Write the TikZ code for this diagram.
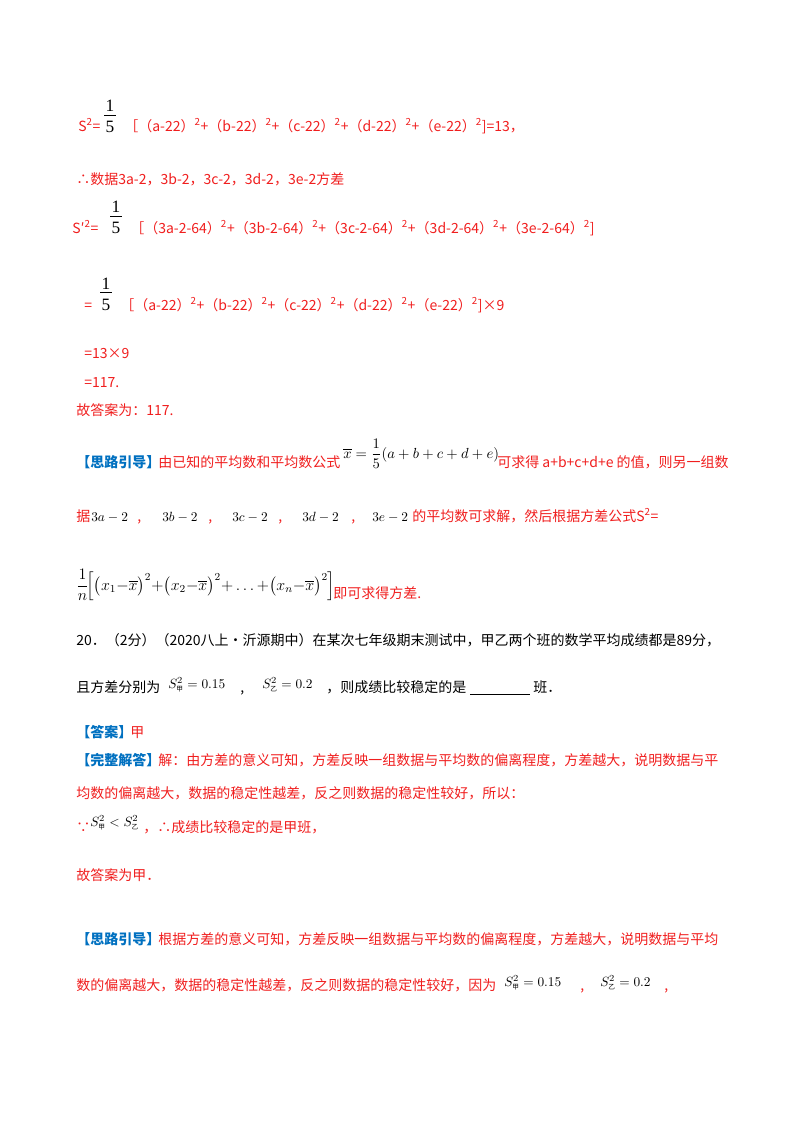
\documentclass[tikz,border=0pt]{standalone}
\usepackage{amsmath}
\usepackage{fontspec}
\newfontfamily\cjk{Noto Sans CJK SC}
\setmainfont{Liberation Serif}
\definecolor{rd}{RGB}{240,30,30}
\definecolor{bl}{RGB}{0,112,192}
\newcommand{\zh}[1]{\hbox{\cjk\fontsize{5}{5}\selectfont #1}}
\begin{document}
\begin{tikzpicture}[x=0.75pt,y=-0.75pt,
 t/.style={anchor=base west,inner sep=0,font=\cjk\fontsize{10.5}{12}\selectfont,text=rd},
 k/.style={anchor=base west,inner sep=0,font=\cjk\fontsize{10.5}{12}\selectfont,text=black},
 m/.style={anchor=base west,inner sep=0,font=\fontsize{10}{12}\selectfont,text=black},
 fr/.style={anchor=base,inner sep=0,font=\fontsize{13}{14}\selectfont,text=black},
 hd/.style={anchor=base west,inner sep=0,font=\cjk\bfseries\fontsize{10.5}{12}\selectfont,text=bl}]
\useasboundingbox (0,0) rectangle (800,1132);
% block 1
\node[t] (s1) at (78,131) {S\textsuperscript{2}=};
\node[fr] (n1) at (110,111) {1};
\node[fr] (d1) at (110,132) {5};
\draw (104,115) -- (116,115);
\node[t] (b1) at (124,131) {［（a-22）\textsuperscript{2}+（b-22）\textsuperscript{2}+（c-22）\textsuperscript{2}+（d-22）\textsuperscript{2}+（e-22）\textsuperscript{2}]=13，};
\node[t] (l2) at (76,184) {∴数据3a-2，3b-2，3c-2，3d-2，3e-2方差};
\node[t] (s2) at (72,233) {S′\textsuperscript{2}=};
\node[fr] (n2) at (116,212) {1};
\node[fr] (d2) at (116,233) {5};
\draw (110,216) -- (122,216);
\node[t] (b2) at (130,233) {［（3a-2-64）\textsuperscript{2}+（3b-2-64）\textsuperscript{2}+（3c-2-64）\textsuperscript{2}+（3d-2-64）\textsuperscript{2}+（3e-2-64）\textsuperscript{2}]};
\node[t] (e3) at (84,310) {=};
\node[fr] (n3) at (106,289) {1};
\node[fr] (d3) at (106,310) {5};
\draw (100,292) -- (112,292);
\node[t] (b3) at (120,310) {［（a-22）\textsuperscript{2}+（b-22）\textsuperscript{2}+（c-22）\textsuperscript{2}+（d-22）\textsuperscript{2}+（e-22）\textsuperscript{2}]×9};
\node[t] (l4) at (84,358) {=13×9};
\node[t] (l5) at (84,387) {=117.};
\node[t] (l6) at (76,415) {故答案为：117.};
% hint 1
\node[hd] (h1) at (76,467) {【思路引导】};
\node[t] (h1b) at (158,467) {由已知的平均数和平均数公式};
\node[m,font=\fontsize{10.5}{12}\selectfont] (f1) at (343,458) {$\overline{x}=\dfrac{1}{5}\!\left(a+b+c+d+e\right)$};
\node[t] (h1c) at (497,467) {可求得 a+b+c+d+e 的值，则另一组数};
\node[t] (r2a) at (76,521) {据};
\node[m] (r2b) at (91,521) {$3a-2$};
\node[t] (r2b1) at (137,521) {,};
\node[m] (r2c) at (162,521) {$3b-2$};
\node[t] (r2c1) at (208,521) {,};
\node[m] (r2d) at (232,521) {$3c-2$};
\node[t] (r2d1) at (278,521) {,};
\node[m] (r2e) at (302,521) {$3d-2$};
\node[t] (r2e1) at (351,521) {,};
\node[m] (r2f) at (372,521) {$3e-2$};
\node[t] (r2g) at (412,521) {的平均数可求解，然后根据方差公式S\textsuperscript{2}=};
\node[m,font=\fontsize{11.5}{13}\selectfont] (f2) at (76,590) {$\dfrac{1}{n}\!\Big[\big(x_1{-}\overline{x}\big)^2{+}\big(x_2{-}\overline{x}\big)^2{+}\ldots{+}\big(x_n{-}\overline{x}\big)^2\Big]$};
\node[t] (r3) at (333,598) {即可求得方差.};
% question 20
\node[k] (q1) at (76,645) {20．（2分）（2020八上·沂源期中）在某次七年级期末测试中，甲乙两个班的数学平均成绩都是89分，};
\node[k] (q2) at (76,692) {且方差分别为};
\node[m] (q3) at (168,688) {$S^2_{\zh{甲}}=0.15$};
\node[k] (q4) at (240,692) {,};
\node[m] (q5) at (262,688) {$S^2_{\zh{乙}}=0.2$};
\node[k] (q6) at (326,692) {，则成绩比较稳定的是};
\draw (470,694) -- (530,694);
\node[k] (q7) at (533,692) {班．};
\node[hd] (a1) at (76,737) {【答案】};
\node[t] (a2) at (130,737) {甲};
\node[hd] (c1) at (76,765) {【完整解答】};
\node[t] (c2) at (158,765) {解：由方差的意义可知，方差反映一组数据与平均数的偏离程度，方差越大，说明数据与平};
\node[t] (c3) at (76,798) {均数的偏离越大，数据的稳定性越差，反之则数据的稳定性较好，所以：};
\node[t] (c4) at (76,832) {∵};
\node[m] (c5) at (90,826) {$S^2_{\zh{甲}}<S^2_{\zh{乙}}$};
\node[t] (c6) at (143,832) {，∴成绩比较稳定的是甲班，};
\node[t] (c7) at (76,880) {故答案为甲．};
\node[hd] (g1) at (76,944) {【思路引导】};
\node[t] (g2) at (158,944) {根据方差的意义可知，方差反映一组数据与平均数的偏离程度，方差越大，说明数据与平均};
\node[t] (g3) at (76,990) {数的偏离越大，数据的稳定性越差，反之则数据的稳定性较好，因为};
\node[m] (g4) at (504,986) {$S^2_{\zh{甲}}=0.15$};
\node[t] (g5) at (580,990) {,};
\node[m] (g6) at (600,986) {$S^2_{\zh{乙}}=0.2$};
\node[t] (g7) at (664,990) {,};
\end{tikzpicture}
\end{document}
